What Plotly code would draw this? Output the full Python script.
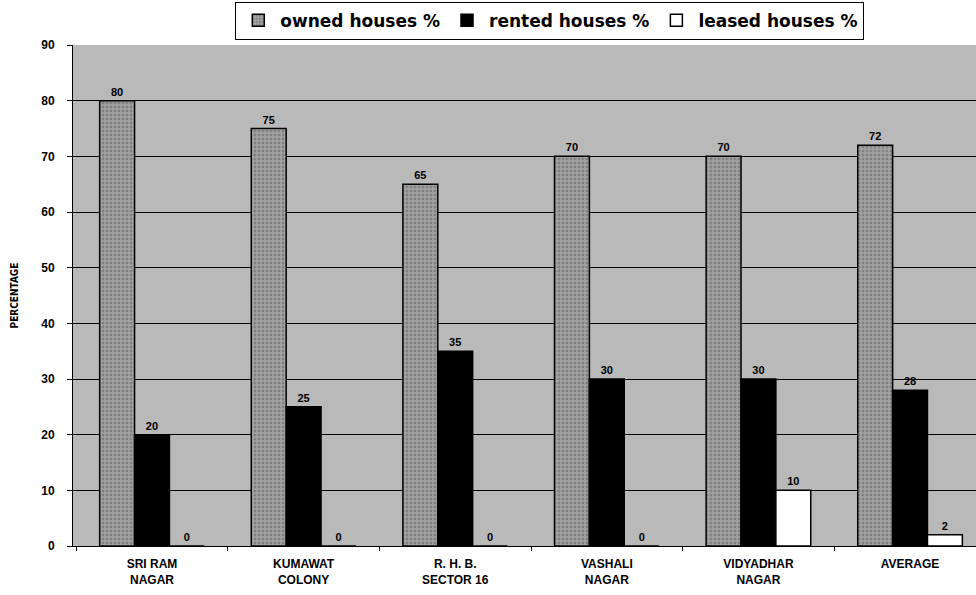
import plotly.graph_objects as go

# Housing tenure by locality (percent of households)
localities = ["SRI RAM<br>NAGAR", "KUMAWAT<br>COLONY", "R. H. B.<br>SECTOR 16",
              "VASHALI<br>NAGAR", "VIDYADHAR<br>NAGAR", "AVERAGE"]
owned = [80, 75, 65, 70, 70, 72]
rented = [20, 25, 35, 30, 30, 28]
leased = [0, 0, 0, 0, 10, 2]
y_ticks = [0, 10, 20, 30, 40, 50, 60, 70, 80, 90]

FONT = "Liberation Sans, Arial, sans-serif"
WIDE = "DejaVu Sans, Verdana, sans-serif"

fig = go.Figure()
fig.add_bar(
    name="owned houses %", x=localities, y=owned,
    marker=dict(color="#8e8e8e", line=dict(color="black", width=1.5),
                pattern=dict(shape=".", fgcolor="#5e5e5e", bgcolor="#a4a4a4", size=4, solidity=0.45)),
    text=owned, textposition="outside",
)
fig.add_bar(
    name="rented houses %", x=localities, y=rented,
    marker=dict(color="black", line=dict(color="black", width=1.5)),
    text=rented, textposition="outside",
)
fig.add_bar(
    name="leased houses %", x=localities, y=leased,
    marker=dict(color="white", line=dict(color="black", width=1.5)),
    text=leased, textposition="outside",
)

fig.update_traces(
    textfont=dict(family=FONT, size=11, color="black", weight="bold"),
    cliponaxis=False,
)

fig.update_layout(
    width=976, height=595,
    margin=dict(l=73, r=0, t=45, b=49, autoexpand=False),
    barmode="group", bargap=0.31, bargroupgap=0,
    paper_bgcolor="white",
    plot_bgcolor="#b9b9b9",
    font=dict(family=FONT, color="black", size=11),
    legend=dict(
        orientation="h", x=0.528, xanchor="center", y=0.997, yanchor="top",
        yref="container", bgcolor="white", bordercolor="black", borderwidth=1,
        font=dict(family=WIDE, size=17, color="black", weight="bold"),
        itemwidth=34, tracegroupgap=0,
    ),
    xaxis=dict(
        range=[-0.521, 5.435],
        showgrid=False, showline=True, linecolor="black", linewidth=1,
        ticks="outside", ticklen=4, tickcolor="black",
        tickson="boundaries", ticklabelstandoff=7,
        tickfont=dict(family=FONT, size=12, color="black", weight="bold"),
    ),
    yaxis=dict(
        range=[0, 90], tickvals=y_ticks,
        showgrid=True, gridcolor="black", gridwidth=1,
        showline=True, linecolor="black", linewidth=1,
        ticks="outside", ticklen=5, tickcolor="black",
        ticklabelstandoff=10,
        tickfont=dict(family=FONT, size=12, color="black", weight="bold"),
        zeroline=False,
        title=dict(text="<b>PERCENTAGE</b>", standoff=20,
                   font=dict(family="DejaVu Sans Condensed, Liberation Sans Narrow, sans-serif", size=10, color="black")),
    ),
)

fig.write_html("out.html")
